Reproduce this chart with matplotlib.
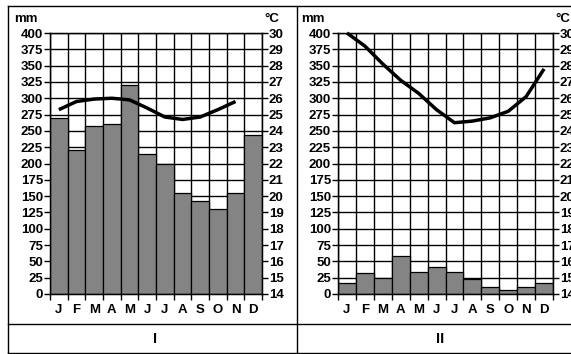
import matplotlib.pyplot as plt
import numpy as np

months = ['J', 'F', 'M', 'A', 'M', 'J', 'J', 'A', 'S', 'O', 'N', 'D']

# station I
rain_1 = [270, 220, 258, 260, 320, 215, 200, 155, 143, 130, 155, 243]
temp_1 = [25.3, 25.8, 25.95, 26.0, 25.9, 25.4, 24.85, 24.7, 24.85, 25.3, 25.8]

# station II
rain_2 = [17, 32, 25, 58, 33, 42, 33, 23, 10, 6, 10, 17]
temp_2 = [30.0, 29.2, 28.1, 27.1, 26.3, 25.3, 24.5, 24.6, 24.8, 25.2, 26.1, 27.8]

panel_names = ['I', 'II']

W, H = 571, 354
plt.rcParams['font.family'] = ['Liberation Sans', 'DejaVu Sans']
plt.rcParams['font.weight'] = 'bold'
FS = 9.5


def px(x, y, w, h):
    return [x / W, 1 - (y + h) / H, w / W, h / H]


def draw_panel(fig, left, width, rain, temp):
    ax = fig.add_axes(px(left, 33, width, 261))
    x = np.arange(len(months))
    ax.set_axisbelow(True)
    ax.bar(x, rain, width=1.0, color='#848484', edgecolor='black', linewidth=0.9,
           zorder=2)
    ax.set_xlim(-0.5, 11.5)
    ax.set_ylim(0, 400)
    ax.set_yticks(np.arange(0, 401, 25))
    ax.set_xticks(np.arange(-0.5, 12, 1))
    ax.set_xticklabels([])
    ax.grid(True, color='black', linewidth=1.0)
    ax.tick_params(axis='both', direction='out', length=4, width=1, labelsize=FS, pad=1)
    for i, m in enumerate(months):
        ax.text(i, -15, m, ha='center', va='top', fontsize=FS, fontweight='bold')
    for s in ax.spines.values():
        s.set_linewidth(1.0)
    ax.text(-0.06, 1.055, 'mm', transform=ax.transAxes, ha='right', va='center',
            fontsize=FS, fontweight='bold')

    ax2 = ax.twinx()
    ax2.set_ylim(14, 30)
    ax2.set_yticks(np.arange(14, 31, 1))
    ax2.tick_params(axis='y', direction='out', length=4, width=1, labelsize=FS, pad=1)
    ax2.plot(np.arange(len(temp)), temp, color='black', linewidth=2.5,
             solid_capstyle='butt', solid_joinstyle='round', clip_on=False)
    ax2.text(1.01, 1.055, '°C', transform=ax2.transAxes, ha='left', va='center',
             fontsize=FS, fontweight='bold')
    return ax


fig = plt.figure(figsize=(W / 100, H / 100), dpi=100)

draw_panel(fig, 50, 212, rain_1, temp_1)
draw_panel(fig, 338, 215, rain_2, temp_2)


# frame lines
def fline(x0, y0, x1, y1):
    fig.add_artist(plt.Line2D([x0 / W, x1 / W], [1 - y0 / H, 1 - y1 / H],
                              color='black', linewidth=1.0))


fline(8, 6, 575, 6)
fline(8, 6, 8, 353)
fline(8, 353, 575, 353)
fline(8, 324, 575, 324)
fline(297, 6, 297, 353)

fig.text(155 / W, 1 - 339 / H, panel_names[0], ha='center', va='center',
         fontsize=FS + 1, fontweight='bold')
fig.text(440 / W, 1 - 339 / H, panel_names[1], ha='center', va='center',
         fontsize=FS + 1, fontweight='bold')

fig.savefig('out.png', dpi=100)
